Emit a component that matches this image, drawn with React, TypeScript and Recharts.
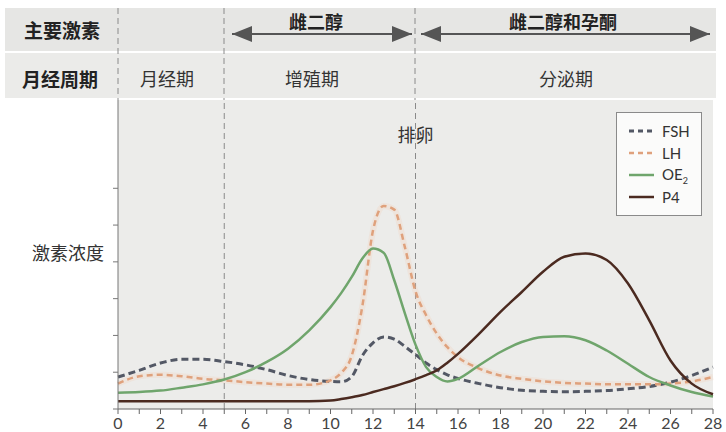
import React from 'react';
import {
    ComposedChart, Line, XAxis, YAxis, CartesianGrid, ReferenceLine, Legend,
} from 'recharts';

// cycle day (half days around ovulation where the curves turn fast)
const days = [
    0, 1, 2, 3, 4, 5, 6, 7, 8, 9, 10, 10.5, 11, 11.5, 12, 12.5, 13, 13.5,
    14, 14.5, 15, 15.5, 16, 17, 18, 19, 20, 21, 22, 23, 24, 25, 26, 27, 28,
];

const fsh = [
    0.87, 1.05, 1.25, 1.35, 1.35, 1.29, 1.2, 1.07, 0.91, 0.8, 0.75, 0.74, 0.88, 1.45, 1.8, 1.96, 1.9, 1.7,
    1.48, 1.25, 1.07, 0.93, 0.83, 0.69, 0.58, 0.51, 0.48, 0.47, 0.48, 0.5, 0.55, 0.61, 0.73, 0.91, 1.14,
];

const lh = [
    0.69, 0.89, 0.93, 0.89, 0.82, 0.78, 0.73, 0.69, 0.66, 0.66, 0.78, 0.98, 1.45, 2.8, 4.85, 5.52, 5.42, 4.4,
    3.2, 2.55, 2.05, 1.68, 1.41, 1.1, 0.91, 0.82, 0.75, 0.71, 0.69, 0.67, 0.67, 0.67, 0.69, 0.75, 0.87,
];

const oe2 = [
    0.44, 0.46, 0.5, 0.58, 0.67, 0.8, 1.0, 1.28, 1.64, 2.14, 2.77, 3.15, 3.59, 4.09, 4.36, 4.25, 3.5, 2.6,
    1.75, 1.14, 0.87, 0.75, 0.82, 1.19, 1.55, 1.82, 1.96, 1.98, 1.87, 1.59, 1.23, 0.87, 0.64, 0.46, 0.34,
];

const p4 = [
    0.21, 0.21, 0.21, 0.21, 0.21, 0.21, 0.21, 0.21, 0.21, 0.21, 0.23, 0.27, 0.32, 0.38, 0.46, 0.54, 0.62, 0.71,
    0.81, 0.92, 1.05, 1.26, 1.5, 2.05, 2.64, 3.18, 3.73, 4.14, 4.23, 4.05, 3.41, 2.41, 1.32, 0.69, 0.4,
];

const dayTicks = [0, 1, 2, 3, 4, 5, 6, 7, 8, 9, 10, 11, 12, 13, 14, 15, 16, 17, 18, 19, 20, 21, 22, 23, 24, 25, 26, 27, 28];
const levelTicks = [0, 1, 2, 3, 4, 5, 6];
const phaseBounds = [5, 14];

const data = days.map((day, i) => ({ day, fsh: fsh[i], lh: lh[i], oe2: oe2[i], p4: p4[i] }));

const seriesStyle: Record<string, { color: string; dash?: string; width: number }> = {
    fsh: { color: '#535865', dash: '7 4', width: 3 },
    lh: { color: '#dfa17c', dash: '6 4', width: 2.5 },
    oe2: { color: '#6fa56c', width: 2.5 },
    p4: { color: '#4b2a20', width: 2.5 },
};

const cjk = '"Noto Sans CJK SC", sans-serif';
const latin = 'Lato, "Open Sans", sans-serif';

const renderLegend = (props: any) => {
    const items = (props.payload || []).filter((e: any) => seriesStyle[e.dataKey] && e.type !== 'none');
    return (
        <div style={{
            border: '1px solid #8a8a8a', background: '#fbfbfa', padding: '7px 0 7px 12px',
            fontFamily: latin, fontSize: 15, color: '#333', boxSizing: 'border-box', width: 86,
        }}>
            {items.map((e: any) => {
                const st = seriesStyle[e.dataKey];
                return (
                    <div key={e.dataKey} style={{ display: 'flex', alignItems: 'center', height: 22 }}>
                        <svg width={25} height={6} style={{ marginRight: 8 }}>
                            <line x1={0} y1={3} x2={25} y2={3} stroke={st.color}
                                strokeWidth={st.width} strokeDasharray={st.dash ? '5 4' : undefined} />
                        </svg>
                        {e.value === 'OE2' ? <span>OE<sub style={{ fontSize: 9 }}>2</sub></span> : e.value}
                    </div>
                );
            })}
        </div>
    );
};

function Header() {
    const dash = '6 4';
    return (
        <svg width={726} height={432} style={{ position: 'absolute', left: 0, top: 0 }}>
            <defs>
                <marker id="ah" markerWidth="10" markerHeight="8" refX="10" refY="4" orient="auto-start-reverse">
                    <path d="M0,0 L10,4 L0,8 z" fill="#555" />
                </marker>
            </defs>
            <rect x={5} y={8} width={711} height={43} fill="#e6e6e4" />
            <rect x={5} y={53} width={711} height={45} fill="#ebebe9" />
            {[118, 224, 415].map((x) => (
                <line key={x} x1={x} y1={8} x2={x} y2={100} stroke="#8a8a8a" strokeDasharray={dash} />
            ))}
            <line x1={232} y1={34} x2={412} y2={34} stroke="#555" strokeWidth={2}
                markerStart="url(#ah)" markerEnd="url(#ah)" />
            <line x1={421} y1={34} x2={710} y2={34} stroke="#555" strokeWidth={2}
                markerStart="url(#ah)" markerEnd="url(#ah)" />
            <g fontFamily={cjk} textAnchor="middle" dominantBaseline="central">
                <text x={62} y={29} fontSize={19} fontWeight="bold" fill="#222">主要激素</text>
                <text x={60} y={78} fontSize={19} fontWeight="bold" fill="#222">月经周期</text>
                <text x={316} y={21} fontSize={18} fontWeight="bold" fill="#222">雌二醇</text>
                <text x={563} y={21} fontSize={18} fontWeight="bold" fill="#222">雌二醇和孕酮</text>
                <text x={167} y={78} fontSize={18} fill="#333">月经期</text>
                <text x={312} y={78} fontSize={18} fill="#333">增殖期</text>
                <text x={566} y={78} fontSize={18} fill="#333">分泌期</text>
                <text x={68} y={252} fontSize={18} fill="#333">激素浓度</text>
            </g>
        </svg>
    );
}

export default function App() {
    return (
        <div style={{ position: 'fixed', width: 726, height: 432, left: 0, top: 0, background: '#fff' }}>
            <Header />
            <div style={{ position: 'absolute', left: 0, top: 0 }}>
                <ComposedChart width={726} height={432} data={data}
                    margin={{ top: 100, right: 13, bottom: 0, left: 58 }}>
                    <CartesianGrid horizontal={false} vertical={false} fill="#ececea" fillOpacity={1} />
                    <XAxis type="number" dataKey="day" domain={[0, 28]} ticks={dayTicks} interval={0}
                        tickFormatter={(d: number) => (d % 2 === 0 ? String(d) : '')}
                        tick={{ fill: '#444', fontSize: 16, fontFamily: latin }}
                        tickLine={{ stroke: '#666' }} axisLine={{ stroke: '#666' }}
                        tickSize={5} tickMargin={4} height={23} />
                    <YAxis type="number" domain={[0, 8.4]} ticks={levelTicks} width={60}
                        tickFormatter={() => ''} tickSize={5}
                        tickLine={{ stroke: '#777' }} axisLine={{ stroke: '#777' }} />
                    {phaseBounds.map((b, i) => (
                        <ReferenceLine key={b} x={b} stroke="#8a8a8a" strokeDasharray="6 4"
                            label={i === 1 ? {
                                value: '排卵', position: 'insideTop', offset: 29,
                                fill: '#333', fontSize: 18, fontFamily: cjk,
                            } : undefined} />
                    ))}
                    <Legend layout="vertical" align="center" verticalAlign="middle" content={renderLegend}
                        wrapperStyle={{ top: 112, left: 616, right: 'auto', bottom: 'auto', width: 86 }} />
                    <Line dataKey="lh" type="monotone" stroke="#f2cdb4" strokeWidth={6} strokeOpacity={0.25}
                        dot={false} legendType="none" isAnimationActive={false} />
                    <Line dataKey="fsh" name="FSH" type="monotone" stroke={seriesStyle.fsh.color}
                        strokeWidth={3} strokeDasharray="7 4" dot={false} isAnimationActive={false} />
                    <Line dataKey="lh" name="LH" type="monotone" stroke={seriesStyle.lh.color}
                        strokeWidth={2.5} strokeDasharray="6 4" dot={false} isAnimationActive={false} />
                    <Line dataKey="oe2" name="OE2" type="monotone" stroke={seriesStyle.oe2.color}
                        strokeWidth={2.5} dot={false} isAnimationActive={false} />
                    <Line dataKey="p4" name="P4" type="monotone" stroke={seriesStyle.p4.color}
                        strokeWidth={2.5} dot={false} isAnimationActive={false} />
                </ComposedChart>
            </div>
        </div>
    );
}
